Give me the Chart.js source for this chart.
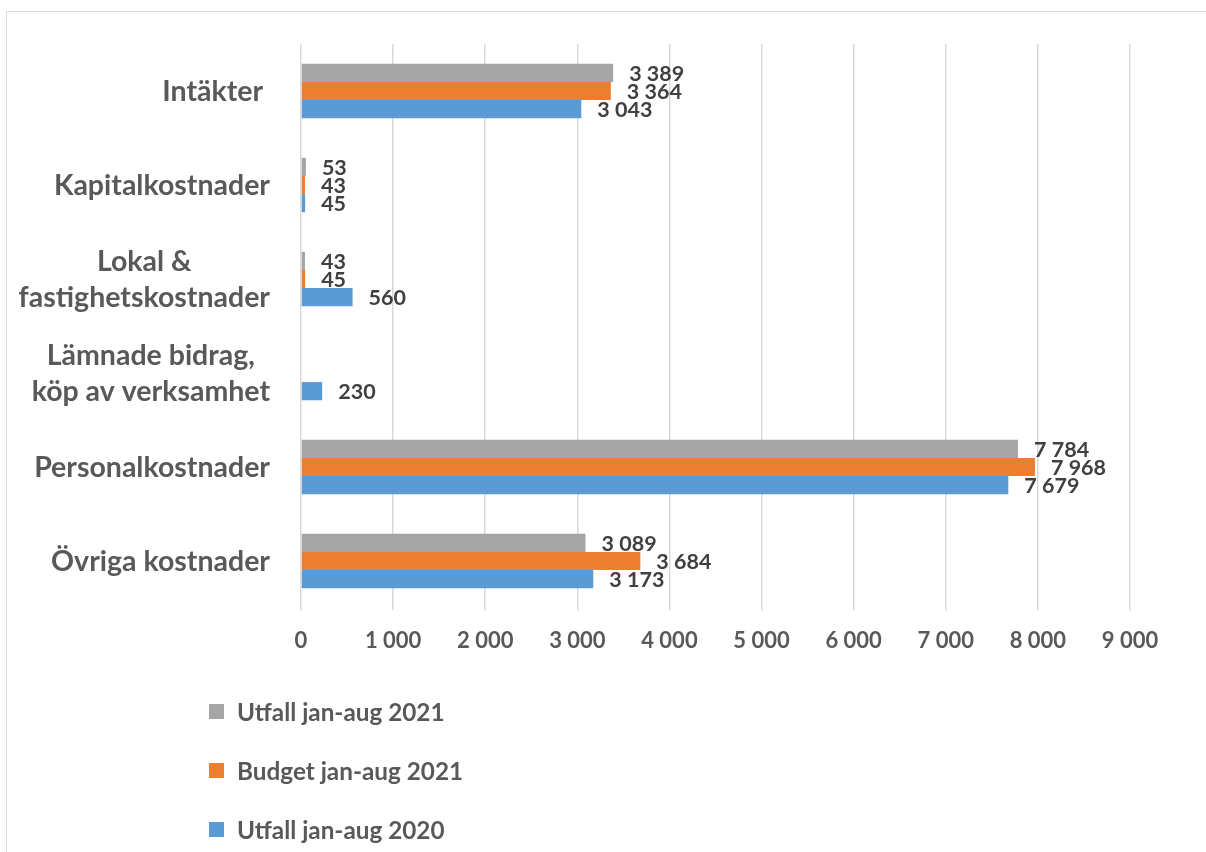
<!DOCTYPE html>
<html>
<head>
<meta charset="utf-8">
<script src="https://cdn.jsdelivr.net/npm/chart.js@4.4.1/dist/chart.umd.min.js"></script>
<style>
  html, body { margin:0; padding:0; background:#fff; overflow:hidden; width:1206px; height:852px; }
  #frame { position:absolute; left:6px; top:11px; width:1400px; height:1000px; border:1px solid #d9d9d9; }
  #c { position:absolute; left:0; top:0; }
  #legend { position:absolute; left:209px; top:0; font-family: Lato, "Open Sans", sans-serif; font-weight:700; font-size:24.3px; color:#595959; }
  .li { position:absolute; left:0; white-space:nowrap; height:24px; display:flex; align-items:center; }
  .sw { width:15px; height:15px; margin-right:13px; flex:none; }
</style>
</head>
<body>
<div id="frame"></div>
<canvas id="c" width="1206" height="852"></canvas>
<div id="legend"></div>
<script>
// ---- data ----
const categories = [
  ['Intäkter '],
  ['Kapitalkostnader'],
  ['Lokal &', 'fastighetskostnader'],
  ['Lämnade bidrag,', 'köp av verksamhet'],
  ['Personalkostnader'],
  ['Övriga kostnader']
];
const seriesNames = ['Utfall jan-aug 2021', 'Budget jan-aug 2021', 'Utfall jan-aug 2020'];
const utfall2021 = [3389, 53, 43, null, 7784, 3089];
const budget2021 = [3364, 43, 45, null, 7968, 3684];
const utfall2020 = [3043, 45, 560, 230, 7679, 3173];
const xTicks = [0, 1000, 2000, 3000, 4000, 5000, 6000, 7000, 8000, 9000];
const seriesColors = ['#A5A5A5', '#ED7D31', '#5B9BD5'];

const FONT = 'Lato, "Open Sans", sans-serif';
function fmt(v) { return String(v).replace(/\B(?=(\d{3})+(?!\d))/g, ' '); }

const valueLabels = {
  id: 'valueLabels',
  afterDatasetsDraw(chart) {
    const ctx = chart.ctx;
    ctx.save();
    ctx.font = 'bold 21.5px ' + FONT;
    ctx.fillStyle = '#404040';
    ctx.textAlign = 'left';
    ctx.textBaseline = 'middle';
    chart.data.datasets.forEach((ds, di) => {
      const meta = chart.getDatasetMeta(di);
      meta.data.forEach((bar, i) => {
        const v = ds.data[i];
        if (v === null || v === undefined) return;
        ctx.fillText(fmt(v), bar.x + 16, bar.y + 1);
      });
    });
    ctx.restore();
  }
};

const categoryLabels = {
  id: 'categoryLabels',
  afterDraw(chart) {
    const ctx = chart.ctx;
    const ys = chart.scales.y;
    ctx.save();
    ctx.font = 'bold 28.5px ' + FONT;
    ctx.fillStyle = '#595959';
    ctx.textAlign = 'center';
    ctx.textBaseline = 'middle';
    const right = 270, lh = 36;
    categories.forEach((lines, i) => {
      const cy = ys.getPixelForValue(i) + 1;
      const w = Math.max(...lines.map(l => ctx.measureText(l).width));
      const cx = right - w / 2;
      const y0 = cy - (lines.length - 1) * lh / 2;
      lines.forEach((l, k) => ctx.fillText(l, cx, y0 + k * lh));
    });
    ctx.restore();
  }
};

const chart = new Chart(document.getElementById('c'), {
  type: 'bar',
  data: {
    labels: categories,
    datasets: [
      { label: seriesNames[0], data: utfall2021, backgroundColor: seriesColors[0] },
      { label: seriesNames[1], data: budget2021, backgroundColor: seriesColors[1] },
      { label: seriesNames[2], data: utfall2020, backgroundColor: seriesColors[2] }
    ]
  },
  options: {
    indexAxis: 'y',
    responsive: false,
    animation: false,
    devicePixelRatio: 1,
    layout: { padding: { left: 0, top: 44, right: 76, bottom: 204 } },
    datasets: { bar: { barPercentage: 1, categoryPercentage: 0.58 } },
    plugins: { legend: { display: false }, tooltip: { enabled: false } },
    scales: {
      x: {
        min: 0, max: 9000,
        afterBuildTicks(scale) { scale.ticks = xTicks.map(v => ({ value: v })); },
        afterFit(scale) { scale.height = 40; },
        grid: { color: '#D9D9D9', lineWidth: 1.5, drawTicks: true, tickLength: 2 },
        border: { display: false },
        ticks: {
          padding: 18,
          color: '#595959',
          font: { family: FONT, weight: 'bold', size: 22 },
          callback: v => fmt(v)
        }
      },
      y: {
        afterFit(scale) { scale.width = 301; },
        grid: { display: false },
        border: { display: false },
        ticks: { display: false }
      }
    }
  },
  plugins: [valueLabels, categoryLabels]
});

// legend (HTML) built from the series arrays
const legend = document.getElementById('legend');
const legendY = [711, 770, 829];
seriesNames.forEach((name, i) => {
  const d = document.createElement('div');
  d.className = 'li';
  d.style.top = (legendY[i] - 12) + 'px';
  const sw = document.createElement('span');
  sw.className = 'sw';
  sw.style.background = seriesColors[i];
  const t = document.createElement('span');
  t.textContent = name;
  d.appendChild(sw); d.appendChild(t);
  legend.appendChild(d);
});
</script>
</body>
</html>
